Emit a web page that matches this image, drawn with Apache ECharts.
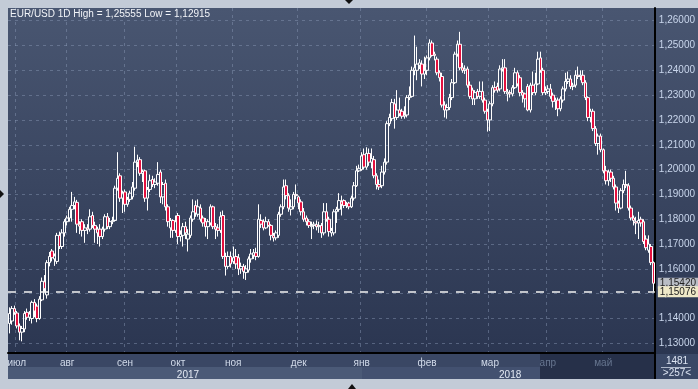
<!DOCTYPE html>
<html><head><meta charset="utf-8">
<script src="https://cdn.jsdelivr.net/npm/echarts@6/dist/echarts.min.js"></script>
<style>html,body{margin:0;padding:0;background:#c3cbd7;}#c{width:698px;height:389px;}</style>
</head><body><div id="c"></div>
<script>
const opens = [
1.1380,1.1390,1.1440,1.1422,1.1370,1.1345,1.1358,1.1425,1.1405,1.1400,
1.1465,1.1450,1.1400,1.1475,1.1548,1.1495,1.1625,1.1672,1.1640,1.1630,
1.1735,1.1690,1.1745,1.1790,1.1805,1.1840,1.1855,1.1868,1.1780,1.1790,
1.1755,1.1765,1.1760,1.1815,1.1775,1.1760,1.1760,1.1730,1.1760,1.1810,
1.1770,1.1790,1.1795,1.1925,1.1975,1.1885,1.1910,1.1860,1.1880,1.1890,
1.1925,1.2030,1.2040,1.1985,1.1995,1.1885,1.1920,1.1960,1.1940,1.1945,
1.1990,1.1890,1.1945,1.1850,1.1765,1.1795,1.1755,1.1815,1.1730,1.1735,
1.1770,1.1720,1.1735,1.1800,1.1855,1.1820,1.1845,1.1805,1.1790,1.1770,
1.1785,1.1850,1.1770,1.1765,1.1755,1.1815,1.1650,1.1610,1.1650,1.1630,
1.1650,1.1645,1.1600,1.1610,1.1585,1.1595,1.1640,1.1655,1.1665,1.1650,
1.1795,1.1790,1.1765,1.1790,1.1775,1.1735,1.1725,1.1735,1.1820,1.1850,
1.1935,1.1895,1.1840,1.1850,1.1900,1.1890,1.1870,1.1830,1.1805,1.1790,
1.1770,1.1775,1.1778,1.1770,1.1775,1.1745,1.1830,1.1800,1.1745,1.1745,
1.1830,1.1840,1.1870,1.1875,1.1855,1.1865,1.1850,1.1885,1.1935,1.1995,
1.2000,1.2060,1.2010,1.2065,1.2030,1.2040,1.1975,1.1940,1.1935,1.1990,
1.2030,1.2185,1.2205,1.2265,1.2210,1.2240,1.2235,1.2215,1.2220,1.2290,
1.2295,1.2400,1.2400,1.2420,1.2425,1.2385,1.2400,1.2450,1.2510,1.2465,
1.2445,1.2390,1.2375,1.2260,1.2240,1.2250,1.2290,1.2350,1.2465,1.2505,
1.2410,1.2400,1.2405,1.2340,1.2320,1.2285,1.2315,1.2295,1.2315,1.2280,
1.2235,1.2200,1.2265,1.2330,1.2335,1.2325,1.2405,1.2410,1.2305,1.2310,
1.2305,1.2330,1.2390,1.2370,1.2310,1.2305,1.2335,1.2240,1.2340,1.2310,
1.2345,1.2450,1.2400,1.2310,1.2315,1.2325,1.2300,1.2275,1.2280,1.2245,
1.2280,1.2325,1.2355,1.2365,1.2335,1.2340,1.2380,1.2375,1.2380,1.2350,
1.2290,1.2210,1.2235,1.2165,1.2105,1.2135,1.2080,1.1995,1.1955,1.1990,
1.1965,1.1930,1.1865,1.1845,1.1915,1.1940,1.1935,1.1845,1.1805,1.1790,
1.1785,1.1800,1.1790,1.1720,1.1675,1.1690,1.1625
];
const closes = [
1.1420,1.1440,1.1425,1.1370,1.1345,1.1360,1.1420,1.1405,1.1418,1.1465,
1.1430,1.1400,1.1478,1.1550,1.1520,1.1625,1.1650,1.1645,1.1652,1.1735,
1.1690,1.1745,1.1790,1.1805,1.1840,1.1855,1.1870,1.1780,1.1772,1.1755,
1.1765,1.1760,1.1810,1.1775,1.1760,1.1745,1.1730,1.1760,1.1810,1.1770,
1.1790,1.1795,1.1925,1.1965,1.1885,1.1905,1.1860,1.1880,1.1905,1.1930,
1.2030,1.2038,1.1985,1.1992,1.1885,1.1920,1.1955,1.1940,1.1950,1.1980,
1.1890,1.1940,1.1850,1.1790,1.1795,1.1755,1.1790,1.1730,1.1740,1.1770,
1.1745,1.1740,1.1805,1.1830,1.1825,1.1850,1.1800,1.1785,1.1770,1.1790,
1.1850,1.1770,1.1760,1.1755,1.1810,1.1650,1.1610,1.1650,1.1620,1.1645,
1.1620,1.1600,1.1610,1.1590,1.1600,1.1640,1.1660,1.1665,1.1650,1.1800,
1.1780,1.1765,1.1790,1.1775,1.1735,1.1725,1.1745,1.1820,1.1850,1.1930,
1.1895,1.1845,1.1850,1.1900,1.1895,1.1865,1.1830,1.1800,1.1790,1.1775,
1.1775,1.1780,1.1770,1.1775,1.1745,1.1830,1.1800,1.1750,1.1755,1.1830,
1.1840,1.1875,1.1860,1.1855,1.1860,1.1850,1.1885,1.1935,1.1995,1.2005,
1.2055,1.2010,1.2065,1.2030,1.2045,1.1975,1.1940,1.1930,1.1990,1.2030,
1.2185,1.2210,1.2270,1.2210,1.2240,1.2225,1.2215,1.2220,1.2290,1.2300,
1.2400,1.2410,1.2425,1.2430,1.2385,1.2400,1.2450,1.2510,1.2460,1.2460,
1.2390,1.2370,1.2260,1.2240,1.2250,1.2290,1.2350,1.2465,1.2505,1.2410,
1.2400,1.2405,1.2340,1.2295,1.2285,1.2310,1.2295,1.2315,1.2280,1.2235,
1.2200,1.2265,1.2330,1.2320,1.2320,1.2405,1.2410,1.2315,1.2312,1.2305,
1.2330,1.2390,1.2345,1.2310,1.2300,1.2285,1.2240,1.2340,1.2310,1.2345,
1.2445,1.2400,1.2310,1.2320,1.2325,1.2295,1.2275,1.2280,1.2245,1.2285,
1.2325,1.2355,1.2365,1.2335,1.2340,1.2380,1.2375,1.2380,1.2350,1.2290,
1.2210,1.2235,1.2165,1.2105,1.2135,1.2080,1.1995,1.1955,1.1990,1.1965,
1.1930,1.1865,1.1845,1.1915,1.1940,1.1935,1.1845,1.1805,1.1795,1.1785,
1.1795,1.1785,1.1710,1.1685,1.1700,1.1625,1.1542
];
const lows = [
1.1340,1.1375,1.1415,1.1360,1.1312,1.1308,1.1345,1.1395,1.1390,1.1380,
1.1405,1.1385,1.1395,1.1470,1.1505,1.1480,1.1610,1.1630,1.1612,1.1620,
1.1680,1.1680,1.1730,1.1775,1.1790,1.1790,1.1840,1.1745,1.1740,1.1730,
1.1705,1.1740,1.1750,1.1765,1.1705,1.1700,1.1690,1.1720,1.1750,1.1760,
1.1760,1.1780,1.1790,1.1915,1.1870,1.1825,1.1830,1.1850,1.1870,1.1880,
1.1915,1.2010,1.1975,1.1950,1.1870,1.1835,1.1910,1.1930,1.1925,1.1935,
1.1865,1.1860,1.1835,1.1770,1.1725,1.1725,1.1745,1.1700,1.1710,1.1690,
1.1720,1.1670,1.1725,1.1790,1.1810,1.1810,1.1790,1.1770,1.1730,1.1720,
1.1775,1.1760,1.1720,1.1730,1.1745,1.1640,1.1573,1.1600,1.1605,1.1620,
1.1600,1.1575,1.1580,1.1560,1.1555,1.1585,1.1625,1.1640,1.1635,1.1645,
1.1765,1.1755,1.1760,1.1770,1.1715,1.1710,1.1715,1.1725,1.1810,1.1840,
1.1880,1.1830,1.1815,1.1840,1.1880,1.1840,1.1815,1.1790,1.1775,1.1765,
1.1720,1.1760,1.1755,1.1745,1.1725,1.1735,1.1790,1.1730,1.1730,1.1735,
1.1785,1.1830,1.1815,1.1845,1.1845,1.1840,1.1845,1.1875,1.1930,1.1990,
1.1995,1.2000,1.2000,1.2015,1.2005,1.1965,1.1920,1.1918,1.1925,1.1980,
1.2020,1.2175,1.2195,1.2165,1.2200,1.2215,1.2205,1.2205,1.2210,1.2280,
1.2290,1.2380,1.2360,1.2405,1.2335,1.2365,1.2380,1.2440,1.2455,1.2440,
1.2380,1.2355,1.2250,1.2210,1.2205,1.2240,1.2280,1.2345,1.2455,1.2400,
1.2390,1.2385,1.2330,1.2285,1.2260,1.2260,1.2285,1.2285,1.2270,1.2225,
1.2153,1.2155,1.2255,1.2310,1.2310,1.2315,1.2395,1.2305,1.2275,1.2290,
1.2295,1.2325,1.2335,1.2295,1.2270,1.2250,1.2235,1.2230,1.2300,1.2300,
1.2340,1.2390,1.2300,1.2300,1.2305,1.2285,1.2250,1.2240,1.2215,1.2235,
1.2270,1.2315,1.2345,1.2325,1.2320,1.2330,1.2365,1.2360,1.2340,1.2280,
1.2195,1.2190,1.2155,1.2095,1.2060,1.2070,1.1985,1.1940,1.1935,1.1950,
1.1920,1.1835,1.1825,1.1840,1.1905,1.1925,1.1835,1.1795,1.1775,1.1740,
1.1720,1.1770,1.1700,1.1675,1.1665,1.1615,1.1508
];
const highs = [
1.1445,1.1450,1.1452,1.1430,1.1380,1.1370,1.1430,1.1440,1.1430,1.1472,
1.1478,1.1460,1.1490,1.1565,1.1575,1.1635,1.1668,1.1680,1.1662,1.1745,
1.1750,1.1760,1.1800,1.1815,1.1850,1.1910,1.1890,1.1878,1.1792,1.1800,
1.1780,1.1780,1.1840,1.1830,1.1790,1.1770,1.1780,1.1770,1.1820,1.1825,
1.1805,1.1810,1.1935,1.2070,1.1985,1.1915,1.1920,1.1890,1.1915,1.1950,
1.2092,1.2060,1.2050,1.2000,1.2000,1.1930,1.1980,1.1975,1.1965,1.2030,
1.2000,1.1950,1.1960,1.1860,1.1805,1.1800,1.1815,1.1825,1.1755,1.1785,
1.1790,1.1760,1.1815,1.1880,1.1875,1.1880,1.1860,1.1815,1.1805,1.1800,
1.1860,1.1855,1.1785,1.1780,1.1830,1.1835,1.1665,1.1670,1.1670,1.1690,
1.1680,1.1660,1.1625,1.1620,1.1615,1.1650,1.1680,1.1680,1.1685,1.1860,
1.1820,1.1800,1.1810,1.1800,1.1780,1.1745,1.1755,1.1830,1.1860,1.1960,
1.1960,1.1905,1.1880,1.1910,1.1940,1.1895,1.1880,1.1845,1.1815,1.1800,
1.1790,1.1790,1.1795,1.1790,1.1785,1.1865,1.1865,1.1810,1.1765,1.1840,
1.1850,1.1905,1.1895,1.1880,1.1870,1.1870,1.1895,1.1950,1.2015,1.2020,
1.2070,1.2085,1.2090,1.2085,1.2085,1.2055,1.1985,1.1960,1.2015,1.2045,
1.2195,1.2225,1.2285,1.2285,1.2320,1.2290,1.2245,1.2255,1.2300,1.2335,
1.2415,1.2540,1.2495,1.2445,1.2440,1.2455,1.2460,1.2525,1.2520,1.2475,
1.2455,1.2400,1.2390,1.2275,1.2265,1.2305,1.2365,1.2475,1.2520,1.2555,
1.2430,1.2420,1.2415,1.2355,1.2330,1.2320,1.2325,1.2355,1.2355,1.2290,
1.2245,1.2275,1.2340,1.2355,1.2350,1.2420,1.2445,1.2445,1.2325,1.2320,
1.2340,1.2410,1.2400,1.2380,1.2320,1.2310,1.2345,1.2350,1.2395,1.2390,
1.2475,1.2475,1.2410,1.2335,1.2340,1.2345,1.2310,1.2290,1.2290,1.2295,
1.2335,1.2390,1.2395,1.2380,1.2350,1.2400,1.2415,1.2400,1.2400,1.2360,
1.2295,1.2245,1.2245,1.2175,1.2145,1.2145,1.2085,1.2015,1.2000,1.2000,
1.1975,1.1940,1.1875,1.1925,1.1960,1.1995,1.1945,1.1855,1.1815,1.1810,
1.1830,1.1810,1.1800,1.1735,1.1735,1.1700,1.1630
];
const monthStartIdx = [3, 23, 46, 67, 89, 115, 140, 166, 191, 214, 236];
const monthLabels = ['июл','авг','сен','окт','ноя','дек','янв','фев','мар','апр','май'];
const yearIdx = [71, 199];
const yearLabels = ['2017', '2018'];
const yTicks = [1.13,1.14,1.15,1.16,1.17,1.18,1.19,1.20,1.21,1.22,1.23,1.24,1.25,1.26];
const lastClose = 1.15420;
const priceLine = 1.15076;
const titleText = 'EUR/USD 1D High = 1,25555 Low = 1,12915';
const totalBars = '1481';
const visibleBars = '>257<';

const categories = closes.map((_, i) => String(i));
const ohlc = closes.map((c, i) => [opens[i], c, lows[i], highs[i]]);
const monthMap = {}; monthStartIdx.forEach((k, j) => monthMap[k] = monthLabels[j]);
const yearMap = {}; yearIdx.forEach((k, j) => yearMap[k] = yearLabels[j]);
const fmt = v => Number(v).toFixed(5).replace('.', ',');
const FONT = 'Liberation Sans';
const grid = {left: 8, right: 43, top: 8, bottom: 36};

const chart = echarts.init(document.getElementById('c'), null, {renderer: 'canvas'});
chart.setOption({
  animation: false,
  backgroundColor: '#c3cbd7',
  textStyle: {fontFamily: FONT},
  grid: grid,
  xAxis: [{
    type: 'category', data: categories, boundaryGap: true,
    axisLine: {show: true, lineStyle: {color: '#000', width: 2}},
    axisTick: {show: false},
    axisLabel: {
      interval: (i) => monthMap[i] !== undefined,
      formatter: (v, i) => {
        const idx = Number(v);
        const t = monthMap[idx] || '';
        return idx >= 214 ? '{d|' + t + '}' : t;
      },
      color: '#d2dbea', fontSize: 10, margin: 5, fontFamily: FONT,
      rich: {d: {color: '#66758f', fontSize: 10, fontFamily: FONT}}
    },
    splitLine: {show: true, interval: (i) => monthMap[i] !== undefined,
      lineStyle: {color: 'rgba(140,155,185,0.45)', type: [3, 4], width: 1}}
  }, {
    type: 'category', data: categories, boundaryGap: true, position: 'bottom', offset: 12,
    axisLine: {show: false}, axisTick: {show: false}, splitLine: {show: false},
    axisLabel: {
      interval: (i) => yearMap[i] !== undefined,
      formatter: (v) => yearMap[Number(v)] || '',
      color: '#e4eaf4', fontSize: 10, margin: 5, fontFamily: FONT
    }
  }],
  yAxis: {
    type: 'value', position: 'right', min: 1.1261, max: 1.2651, scale: true,
    axisLine: {show: true, lineStyle: {color: '#000', width: 2}},
    axisTick: {show: false, customValues: yTicks},
    axisLabel: {customValues: yTicks, formatter: v => fmt(v), color: '#c9d6ec', fontSize: 10, margin: 4, fontFamily: FONT},
    splitLine: {show: true, lineStyle: {color: 'rgba(140,155,185,0.45)', type: [3, 4], width: 1}}
  },
  series: [{
    type: 'candlestick', xAxisIndex: 0, data: ohlc, barWidth: 3,
    itemStyle: {color: 'rgba(0,0,0,0)', color0: '#e3103e', borderColor: '#ffffff', borderColor0: '#ffffff', borderWidth: 1},
    markLine: {
      silent: true, symbol: 'none', animation: false, precision: 5,
      data: [
        {yAxis: lastClose, lineStyle: {color: 'rgba(0,0,0,0)', width: 1},
          label: {show: true, position: 'end', distance: 3, formatter: () => fmt(lastClose), color: '#222', backgroundColor: '#b9bdc5',
            padding: [1, 2, 0, 2], fontSize: 10, fontFamily: FONT}},
        {yAxis: priceLine, lineStyle: {color: '#f2f2f2', type: [8, 8], width: 1.5, opacity: 1},
          label: {show: true, position: 'end', distance: 3, formatter: () => fmt(priceLine), color: '#222', backgroundColor: '#efe9c8',
            padding: [1, 2, 0, 2], fontSize: 10, fontFamily: FONT}}
      ]
    }
  }],
  graphic: [
    {type: 'rect', z: -100, shape: {x: 8, y: 8, width: 690, height: 346},
      style: {fill: {type: 'linear', x: 0, y: 0, x2: 0, y2: 1, colorStops: [{offset: 0, color: '#495671'}, {offset: 1, color: '#2b3651'}]}}},
    {type: 'rect', z: -90, shape: {x: 8, y: 354, width: 647, height: 13}, style: {fill: '#3a4764'}},
    {type: 'rect', z: -90, shape: {x: 8, y: 367, width: 354, height: 12}, style: {fill: '#4b5a77'}},
    {type: 'rect', z: -90, shape: {x: 362, y: 367, width: 293, height: 12}, style: {fill: '#435170'}},
    {type: 'rect', z: -85, shape: {x: 540, y: 354, width: 115, height: 25}, style: {fill: '#263049'}},
    {type: 'rect', z: -90, shape: {x: 655, y: 354, width: 43, height: 25}, style: {fill: '#3a4866'}},
    {type: 'line', z: 10, shape: {x1: 655, y1: 353, x2: 655, y2: 379}, style: {stroke: '#000', lineWidth: 2}},
    {type: 'line', z: 10, shape: {x1: 661, y1: 367.5, x2: 691, y2: 367.5}, style: {stroke: '#aeb8ca', lineWidth: 1}},
    {type: 'text', z: 10, x: 677, y: 361, style: {text: totalBars, fill: '#dce4f2', font: '10px ' + FONT, textAlign: 'center', textVerticalAlign: 'middle'}},
    {type: 'text', z: 10, x: 677, y: 373, style: {text: visibleBars, fill: '#dce4f2', font: '10px ' + FONT, textAlign: 'center', textVerticalAlign: 'middle'}},
    {type: 'text', z: 10, x: 10, y: 14, style: {text: titleText, fill: '#f2f4f8', font: '10px ' + FONT, textAlign: 'left', textVerticalAlign: 'middle'}},
    {type: 'polygon', z: 10, shape: {points: [[345, 0], [353, 0], [349, 4]]}, style: {fill: '#111'}},
    {type: 'polygon', z: 10, shape: {points: [[348, 389], [356, 389], [352, 384]]}, style: {fill: '#111'}},
    {type: 'polygon', z: 10, shape: {points: [[0, 190], [0, 198], [4, 194]]}, style: {fill: '#111'}}
  ]
});
</script></body></html>
